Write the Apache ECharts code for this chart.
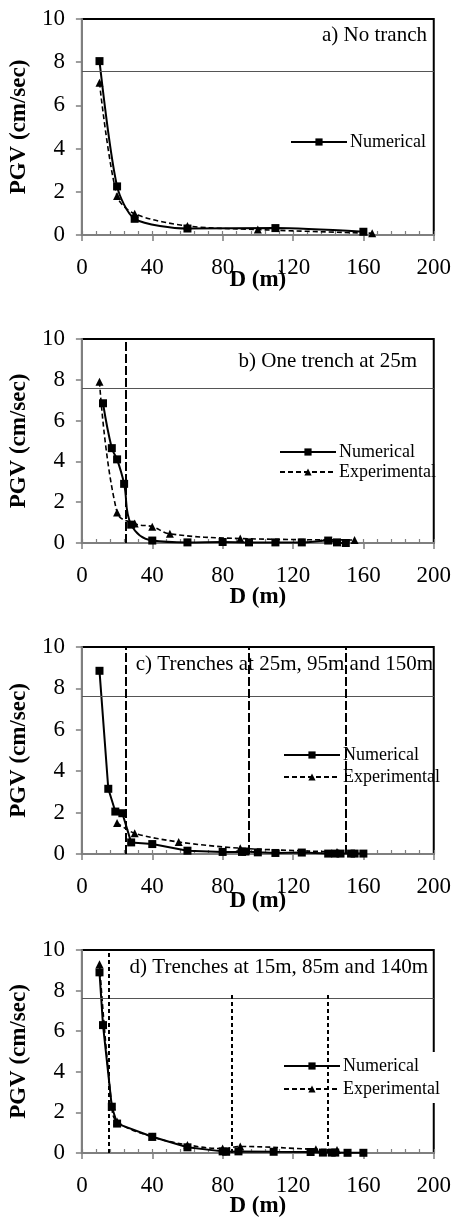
<!DOCTYPE html>
<html>
<head>
<meta charset="utf-8">
<script src="https://cdn.jsdelivr.net/npm/echarts@6/dist/echarts.min.js"></script>
<style>
  html, body { margin: 0; padding: 0; background: #fff; }
  #chart { width: 454px; height: 1219px; }
</style>
</head>
<body>
<div id="chart"></div>
<script>
// a) no trench
const distA_num = [10, 20, 30, 60, 110, 160];
const pgvA_num = [8.05, 2.25, 0.75, 0.3, 0.32, 0.15];
const distA_exp = [10, 20, 30, 60, 100, 165];
const pgvA_exp = [7.05, 1.8, 0.98, 0.42, 0.25, 0.08];

// b) one trench at 25m
const distB_num = [12, 17, 20, 24, 28, 40, 60, 80, 95, 110, 125, 140, 145, 150];
const pgvB_num = [6.85, 4.65, 4.1, 2.9, 0.9, 0.12, 0.03, 0.05, 0.03, 0.03, 0.03, 0.12, 0.03, 0.0];
const distB_exp = [10, 20, 30, 40, 50, 90, 155];
const pgvB_exp = [7.9, 1.5, 0.95, 0.8, 0.45, 0.22, 0.15];

// c) trenches at 25m, 95m and 150m
const distC_num = [10, 15, 19, 23, 28, 40, 60, 80, 91, 93, 100, 110, 125, 140, 144, 147, 153, 155, 160];
const pgvC_num = [8.85, 3.15, 2.05, 1.97, 0.56, 0.48, 0.16, 0.1, 0.1, 0.12, 0.08, 0.05, 0.07, 0.02, 0.02, 0.02, 0.02, 0.02, 0.02];
const distC_exp = [20, 30, 55, 90, 145];
const pgvC_exp = [1.5, 1.0, 0.58, 0.28, 0.1];

// d) trenches at 15m, 85m and 140m
const distD_num = [10, 12, 17, 20, 40, 60, 80, 82, 89, 109, 130, 137, 142, 144, 151, 160];
const pgvD_num = [8.9, 6.3, 2.28, 1.45, 0.8, 0.28, 0.08, 0.06, 0.08, 0.06, 0.05, 0.02, 0.02, 0.02, 0.01, 0.01];
const distD_exp = [10, 17, 20, 40, 60, 80, 90, 133, 145];
const pgvD_exp = [9.3, 2.3, 1.55, 0.8, 0.4, 0.22, 0.32, 0.18, 0.15];

const trenchesA = [];
const trenchesB = [25];
const trenchesC = [25, 95, 150];
const trenchesD = [15, 85, 140];

const pgvLimit = 7.6;
const xTicks = [0, 200, 40];   // min, max, interval
const xMinorInterval = 8;
const yTicks = [0, 10, 2];

const serif = "'Liberation Serif', 'Times New Roman', serif";

function zip(xs, ys) {
  return xs.map(function (x, i) { return [x, ys[i]]; });
}

const panels = [
  {
    grid: { left: 67, top: 19, width: 369, height: 216 },
    title: 'a) No tranch', titlePos: { right: 27, top: 25, padding: 0 },
    legend: { left: 290, top: 133, data: ['Numerical'] },
    nameGapX: 34,
    num: zip(distA_num, pgvA_num), exp: zip(distA_exp, pgvA_exp),
    smoothNum: 0.25, smoothExp: 0.3,
    trenches: trenchesA, dash: [9, 3]
  },
  {
    grid: { left: 68, top: 339, width: 369, height: 204 },
    title: 'b) One trench at 25m', titlePos: { right: 37, top: 351, padding: 0 },
    legend: { left: 279, top: 443, itemGap: 2, data: ['Numerical', 'Experimental'] },
    nameGapX: 43,
    num: zip(distB_num, pgvB_num), exp: zip(distB_exp, pgvB_exp),
    smoothNum: 0.4, smoothExp: 0.4,
    trenches: trenchesB, dash: [9, 3]
  },
  {
    grid: { left: 69, top: 647, width: 370, height: 207 },
    title: 'c) Trenches at 25m, 95m and 150m', titlePos: { right: 21, top: 654, padding: 0 },
    legend: { left: 283, top: 746, itemGap: 4, data: ['Numerical', 'Experimental'] },
    nameGapX: 36,
    num: zip(distC_num, pgvC_num), exp: zip(distC_exp, pgvC_exp),
    smoothNum: false, smoothExp: 0.3,
    trenches: trenchesC, dash: [9, 3]
  },
  {
    grid: { left: 69, top: 950, width: 366, height: 205 },
    title: 'd) Trenches at 15m, 85m and 140m',
    titlePos: { right: 22, top: 953, padding: [4, 4, 14, 4], backgroundColor: '#fff' },
    legend: { left: 278, top: 1052, itemGap: 5, padding: 5, backgroundColor: '#fff',
              data: ['Numerical', 'Experimental'] },
    nameGapX: 42,
    num: zip(distD_num, pgvD_num), exp: zip(distD_exp, pgvD_exp),
    smoothNum: false, smoothExp: 0.4,
    trenches: trenchesD, dash: [4, 3]
  }
];

let chart = echarts.init(document.getElementById('chart'));

let option = {
  animation: false,
  backgroundColor: '#fff',
  title: [], legend: [], grid: [], xAxis: [], yAxis: [], series: []
};

const tickColor = '#7f7f7f';

panels.forEach(function (p, i) {
  option.grid.push(Object.assign({
    show: true, borderColor: '#000', borderWidth: 2, backgroundColor: '#fff', containLabel: false
  }, p.grid));

  option.title.push(Object.assign({
    text: p.title, z: 6,
    textStyle: { fontFamily: serif, fontSize: 21, fontWeight: 'normal', color: '#000' }
  }, p.titlePos));

  option.legend.push(Object.assign({
    orient: 'vertical', align: 'left', padding: 0, z: 5,
    itemWidth: 56, itemHeight: 9,
    textStyle: { fontFamily: serif, fontSize: 18, color: '#000', padding: [0, 0, 0, -2] }
  }, p.legend));

  option.xAxis.push({
    gridIndex: i, type: 'value', position: 'bottom',
    min: xTicks[0], max: xTicks[1], interval: xTicks[2],
    name: 'D (m)', nameLocation: 'middle', nameGap: p.nameGapX, nameMoveOverlap: false,
    nameTextStyle: { fontFamily: serif, fontSize: 23, fontWeight: 'bold', color: '#000' },
    axisLine: { lineStyle: { color: tickColor, width: 2 } },
    axisTick: { length: 6, lineStyle: { color: tickColor, width: 1.5 } },
    axisLabel: { fontFamily: serif, fontSize: 23, color: '#000', margin: 21 },
    splitLine: { show: false }
  });

  option.yAxis.push({
    gridIndex: i, type: 'value',
    min: yTicks[0], max: yTicks[1], interval: yTicks[2],
    name: 'PGV (cm/sec)', nameLocation: 'middle', nameGap: 34,
    nameTextStyle: { fontFamily: serif, fontSize: 23, fontWeight: 'bold', color: '#000' },
    axisLine: { lineStyle: { color: tickColor, width: 2 } },
    axisTick: { length: 6, lineStyle: { color: tickColor, width: 1.5 } },
    axisLabel: { fontFamily: serif, fontSize: 23, color: '#000', margin: 17 },
    splitLine: { show: false }
  });

  // threshold line + trench positions
  let marks = [{ yAxis: pgvLimit, lineStyle: { color: '#555', width: 1.2, type: 'solid' } }];
  p.trenches.forEach(function (t) {
    marks.push({ xAxis: t, lineStyle: { color: '#000', width: 2, type: p.dash } });
  });

  option.series.push({
    name: 'Numerical', type: 'line', xAxisIndex: i, yAxisIndex: i,
    data: p.num, smooth: p.smoothNum,
    symbol: 'rect', symbolSize: 8,
    itemStyle: { color: '#000' },
    lineStyle: { color: '#000', width: 2 },
    z: 3,
    markLine: {
      silent: true, symbol: ['none', 'none'],
      label: { show: false }, emphasis: { disabled: true },
      data: marks
    }
  });

  option.series.push({
    name: 'Experimental', type: 'line', xAxisIndex: i, yAxisIndex: i,
    data: p.exp, smooth: p.smoothExp,
    symbol: 'triangle', symbolSize: 8,
    itemStyle: { color: '#000' },
    lineStyle: { color: '#000', width: 1.6, type: [5, 3] },
    z: 2
  });
});

// small inward ticks along the bottom axis (second x axis per grid)
panels.forEach(function (p, i) {
  option.xAxis.push({
    gridIndex: i, type: 'value', position: 'bottom',
    min: xTicks[0], max: xTicks[1], interval: xMinorInterval,
    axisLine: { show: false },
    axisTick: { inside: true, length: 4, lineStyle: { color: tickColor, width: 1.2 } },
    axisLabel: { show: false },
    splitLine: { show: false }
  });
});

chart.setOption(option);
</script>
</body>
</html>
